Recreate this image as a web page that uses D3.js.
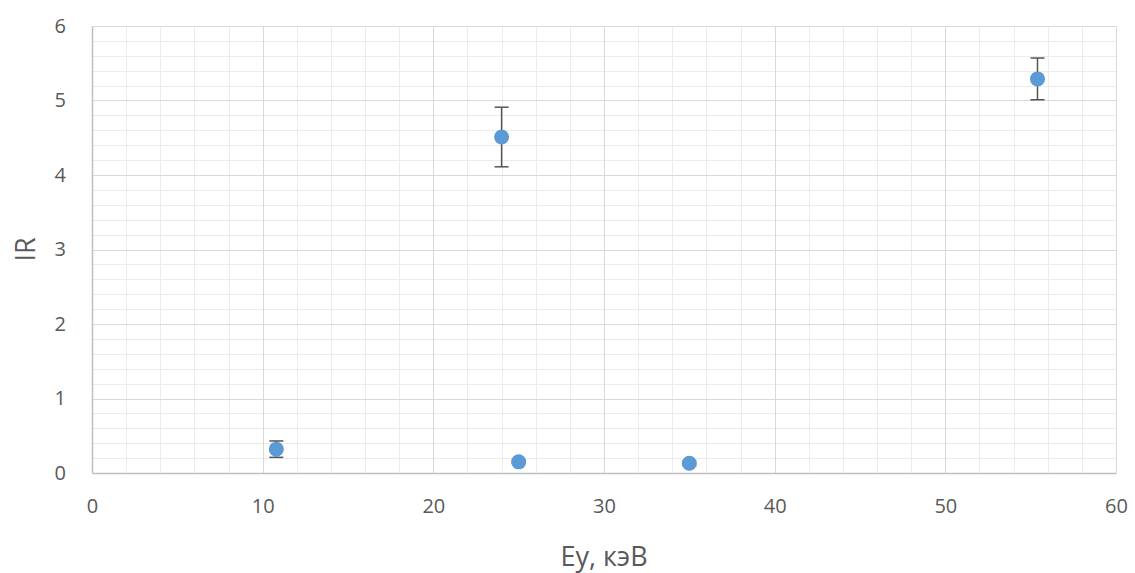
<!DOCTYPE html>
<html>
<head>
<meta charset="utf-8">
<script src="https://cdn.jsdelivr.net/npm/d3@7"></script>
<style>
  html, body { margin: 0; padding: 0; background: #fff; }
  svg { display: block; font-family: "Open Sans", "Liberation Sans", sans-serif; }
</style>
</head>
<body>
<svg id="chart" width="1135" height="573"></svg>
<script>
// Measured points: energy (keV), IR value and error half-width
const energy = [10.8, 24, 25, 35, 55.4];
const irValue = [0.32, 4.51, 0.15, 0.13, 5.29];
const irError = [0.11, 0.40, 0.02, 0.03, 0.28];
const xTicks = [0, 10, 20, 30, 40, 50, 60];
const yTicks = [0, 1, 2, 3, 4, 5, 6];

const svg = d3.select("#chart");
const plotLeft = 92, plotRight = 1116, plotTop = 26, plotBottom = 473;

const x = d3.scaleLinear().domain([0, 60]).range([plotLeft, plotRight]);
const y = d3.scaleLinear().domain([0, 6]).range([plotBottom, plotTop]);

// Minor grid
const minorX = d3.range(0, 60.001, 2).filter(v => v % 10 !== 0);
const minorY = d3.range(0, 6.001, 0.2).map(v => +v.toFixed(1)).filter(v => Math.abs(v - Math.round(v)) > 1e-6);
const grid = svg.append("g");
grid.selectAll(".mx").data(minorX).join("line")
  .attr("x1", d => Math.round(x(d)) + 0.5).attr("x2", d => Math.round(x(d)) + 0.5)
  .attr("y1", plotTop).attr("y2", plotBottom)
  .attr("stroke", "#ececec").attr("stroke-width", 1);
grid.selectAll(".my").data(minorY).join("line")
  .attr("y1", d => Math.round(y(d)) + 0.5).attr("y2", d => Math.round(y(d)) + 0.5)
  .attr("x1", plotLeft).attr("x2", plotRight)
  .attr("stroke", "#ececec").attr("stroke-width", 1);

// Major grid
grid.selectAll(".Mx").data(xTicks.slice(1)).join("line")
  .attr("x1", d => Math.round(x(d)) + 0.5).attr("x2", d => Math.round(x(d)) + 0.5)
  .attr("y1", plotTop).attr("y2", plotBottom)
  .attr("stroke", "#d9d9d9").attr("stroke-width", 1);
grid.selectAll(".My").data(yTicks.slice(1)).join("line")
  .attr("y1", d => Math.round(y(d)) + 0.5).attr("y2", d => Math.round(y(d)) + 0.5)
  .attr("x1", plotLeft).attr("x2", plotRight)
  .attr("stroke", "#d9d9d9").attr("stroke-width", 1);

// Axes
const xAxis = svg.append("g").attr("transform", `translate(0,${plotBottom})`)
  .call(d3.axisBottom(x).tickValues(xTicks).tickFormat(d3.format("d")).tickSize(0).tickPadding(26));
const yAxis = svg.append("g").attr("transform", `translate(${plotLeft},0)`)
  .call(d3.axisLeft(y).tickValues(yTicks).tickFormat(d3.format("d")).tickSize(0).tickPadding(26));
[xAxis, yAxis].forEach(a => {
  a.select(".domain").attr("stroke", "#bfbfbf").attr("stroke-width", 1.5);
  a.selectAll("text").attr("fill", "#595959").style("font-size", "20px")
    .style("font-family", "\"Open Sans\", sans-serif");
});

// Error bars
const eb = svg.append("g").attr("stroke", "#555").attr("stroke-width", 1.5);
energy.forEach((e, i) => {
  const cx = x(e), hi = y(irValue[i] + irError[i]), lo = y(irValue[i] - irError[i]);
  eb.append("line").attr("x1", cx).attr("x2", cx).attr("y1", hi).attr("y2", lo);
  eb.append("line").attr("x1", cx - 7).attr("x2", cx + 7).attr("y1", hi).attr("y2", hi);
  eb.append("line").attr("x1", cx - 7).attr("x2", cx + 7).attr("y1", lo).attr("y2", lo);
});

// Markers
svg.append("g").selectAll("circle").data(energy).join("circle")
  .attr("cx", d => x(d)).attr("cy", (d, i) => y(irValue[i]))
  .attr("r", 7.5).attr("fill", "#5b9bd5");

// Axis titles
svg.append("text").attr("x", (plotLeft + plotRight) / 2).attr("y", 566)
  .attr("text-anchor", "middle").attr("fill", "#595959")
  .style("font-size", "27px").text("Ey, кэВ");
svg.append("text").attr("transform", `translate(35,${(plotTop + plotBottom) / 2}) rotate(-90)`)
  .attr("text-anchor", "middle").attr("fill", "#595959")
  .style("font-size", "27px").text("IR");
</script>
</body>
</html>
